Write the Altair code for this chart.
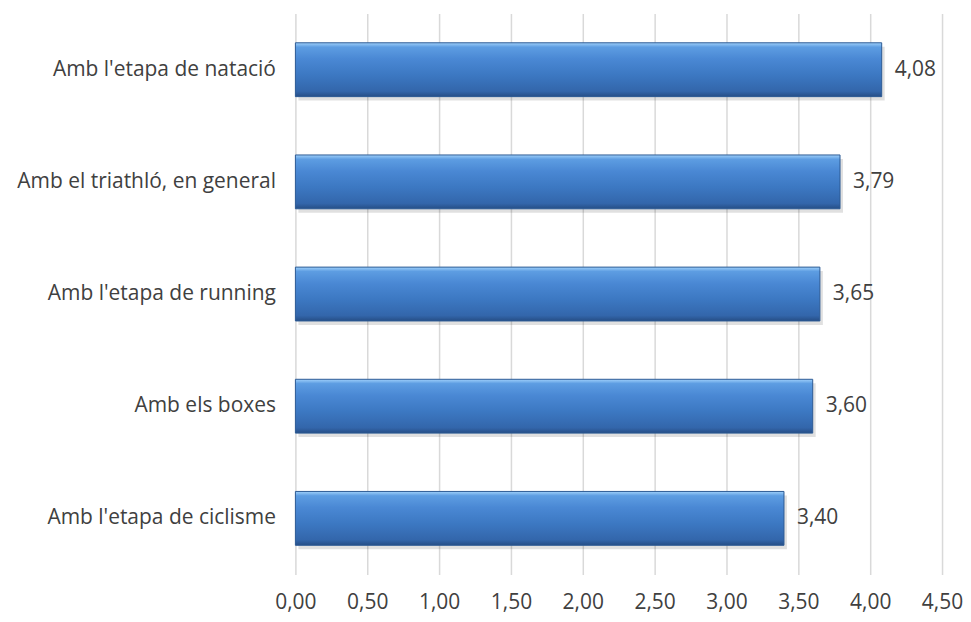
import altair as alt
import pandas as pd

categories = ["Amb l'etapa de natació", "Amb el triathló, en general", "Amb l'etapa de running",
              "Amb els boxes", "Amb l'etapa de ciclisme"]
values = [4.08, 3.79, 3.65, 3.60, 3.40]
x_ticks = [0, 0.5, 1.0, 1.5, 2.0, 2.5, 3.0, 3.5, 4.0, 4.5]

df = pd.DataFrame({"cat": categories, "val": values})
df["lbl"] = [f"{v:.2f}".replace(".", ",") for v in values]

FONT = "Open Sans"
FS = 21
y_enc = alt.Y("cat:N", sort=categories, title=None,
              scale=alt.Scale(paddingInner=0.52, paddingOuter=0.26),
              axis=alt.Axis(labelFont=FONT, labelFontSize=FS, labelColor="#404040",
                            labelPadding=20, ticks=False, domain=False, labelLimit=400,
                            minExtent=283, maxExtent=283, grid=False))
x_enc = alt.X("val:Q", title=None,
              scale=alt.Scale(domain=[0, 4.5], nice=False),
              axis=alt.Axis(values=x_ticks, labelExpr="replace(format(datum.value, '.2f'), '.', ',')",
                            labelFont=FONT, labelFontSize=FS, labelColor="#404040",
                            labelPadding=17, ticks=False, domain=False,
                            labelFlush=False, labelOverlap=False,
                            grid=True, gridColor="#d9d9d9", gridWidth=1.5))

base = alt.Chart(df)

shadow = base.mark_bar(color="#000000", opacity=0.12, xOffset=3, yOffset=4).encode(x=x_enc, y=y_enc)

grad = alt.Gradient(gradient="linear", x1=0, x2=0, y1=0, y2=1,
                    stops=[alt.GradientStop(color="#9fd0fa", offset=0),
                           alt.GradientStop(color="#5d9de2", offset=0.08),
                           alt.GradientStop(color="#4a88d4", offset=0.3),
                           alt.GradientStop(color="#3c78c2", offset=0.6),
                           alt.GradientStop(color="#3366ab", offset=0.9),
                           alt.GradientStop(color="#264e86", offset=1)])

bars = base.mark_bar(color=grad, stroke="#2c5a95", strokeWidth=1).encode(x=x_enc, y=y_enc)

text = base.mark_text(align="left", baseline="middle", dx=13, font=FONT, fontSize=FS,
                      color="#404040").encode(x=x_enc, y=y_enc, text="lbl:N")

chart = (shadow + bars + text).properties(
    width=648, height=562,
    padding={"left": 5, "top": 5, "right": 0, "bottom": 4},
).configure_view(stroke=None)

chart.save("out.html", embed_options={"renderer": "svg", "actions": False})
